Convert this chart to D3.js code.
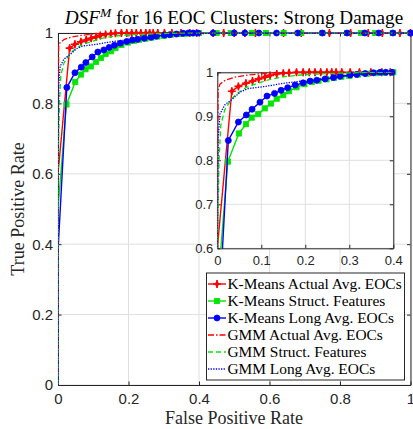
<!DOCTYPE html>
<html>
<head>
<meta charset="utf-8">
<script src="https://cdn.jsdelivr.net/npm/d3@7"></script>
<style>
  html, body { margin: 0; padding: 0; background: #fff; }
  svg { display: block; }
</style>
</head>
<body>
<svg id="chart" width="413" height="429"></svg>
<script>
// ROC points (false positive rate / true positive rate) for each clustering run
const kmActualFpr = [0, 0, 0.033, 0.048, 0.065, 0.08, 0.094, 0.108, 0.12, 0.135, 0.15, 0.163, 0.18, 0.195, 0.209, 0.222, 0.235, 0.249, 0.26, 0.27, 0.283, 0.302, 0.323, 0.349, 0.374, 0.393, 0.44, 0.47, 0.5, 0.53, 0.56, 0.64, 0.69, 0.77, 0.83, 0.88, 0.92, 0.97, 1];
const kmActualTpr = [0, 0.6, 0.957, 0.968, 0.975, 0.98, 0.985, 0.989, 0.993, 0.996, 0.998, 0.999, 1, 1, 1, 1, 1, 1, 1, 1, 1, 1, 1, 1, 1, 1, 1, 1, 1, 1, 1, 1, 1, 1, 1, 1, 1, 1, 1];

const kmStructFpr = [0, 0, 0.024, 0.049, 0.065, 0.078, 0.093, 0.108, 0.122, 0.135, 0.15, 0.163, 0.18, 0.198, 0.215, 0.23, 0.248, 0.265, 0.282, 0.3, 0.32, 0.34, 0.36, 0.38, 0.4, 0.45, 0.49, 0.55, 0.59, 0.64, 0.69, 0.75, 0.82, 0.86, 0.9, 0.95, 1];
const kmStructTpr = [0, 0.5, 0.797, 0.861, 0.882, 0.897, 0.905, 0.918, 0.929, 0.94, 0.948, 0.957, 0.966, 0.973, 0.978, 0.981, 0.984, 0.987, 0.99, 0.992, 0.995, 0.997, 0.998, 0.999, 1, 1, 1, 1, 1, 1, 1, 1, 1, 1, 1, 1, 1];

const kmLongFpr = [0, 0, 0.025, 0.048, 0.066, 0.079, 0.097, 0.113, 0.13, 0.145, 0.16, 0.177, 0.195, 0.211, 0.226, 0.245, 0.264, 0.279, 0.302, 0.317, 0.336, 0.355, 0.37, 0.383, 0.397, 0.44, 0.5, 0.53, 0.57, 0.62, 0.68, 0.75, 0.82, 0.87, 0.91, 0.95, 1];
const kmLongTpr = [0, 0.38, 0.845, 0.887, 0.903, 0.916, 0.932, 0.946, 0.952, 0.959, 0.965, 0.971, 0.976, 0.98, 0.982, 0.985, 0.988, 0.991, 0.994, 0.995, 0.997, 0.999, 1, 1, 1, 1, 1, 1, 1, 1, 1, 1, 1, 1, 1, 1, 1];

const gmmActualFpr = [0, 0, 0.002, 0.006, 0.018, 0.04, 0.065, 0.1, 0.13, 0.2, 1];
const gmmActualTpr = [0, 0.75, 0.962, 0.973, 0.982, 0.989, 0.993, 0.997, 0.999, 1, 1];

const gmmStructFpr = [0, 0, 0.004, 0.008, 0.017, 0.033, 0.045, 0.065, 0.095, 0.12, 0.15, 0.2, 0.28, 0.35, 1];
const gmmStructTpr = [0, 0.6, 0.8, 0.88, 0.915, 0.94, 0.952, 0.965, 0.976, 0.984, 0.99, 0.995, 0.998, 1, 1];

const gmmLongFpr = [0, 0, 0.002, 0.006, 0.017, 0.033, 0.052, 0.07, 0.11, 0.15, 0.2, 0.26, 0.32, 0.4, 0.45, 1];
const gmmLongTpr = [0, 0.6, 0.85, 0.905, 0.926, 0.938, 0.955, 0.963, 0.968, 0.975, 0.981, 0.988, 0.994, 0.998, 1, 1];

const seriesNames = [
  "K-Means Actual Avg. EOCs",
  "K-Means Struct. Features",
  "K-Means Long Avg. EOCs",
  "GMM Actual Avg. EOCs",
  "GMM Struct. Features",
  "GMM Long Avg. EOCs"
];

const mainTicks = [0, 0.2, 0.4, 0.6, 0.8, 1];
const mainTickLabels = ["0", "0.2", "0.4", "0.6", "0.8", "1"];
const insetXTicks = [0, 0.1, 0.2, 0.3, 0.4];
const insetXTickLabels = ["0", "0.1", "0.2", "0.3", "0.4"];
const insetYTicks = [0.6, 0.7, 0.8, 0.9, 1];
const insetYTickLabels = ["0.6", "0.7", "0.8", "0.9", "1"];

// ---- styling for each run ----
const zip = (a, b) => a.map((v, i) => [v, b[i]]);
const series = [
  { name: seriesNames[0], pts: zip(kmActualFpr, kmActualTpr), color: "#ff0000", dash: null, marker: "star" },
  { name: seriesNames[1], pts: zip(kmStructFpr, kmStructTpr), color: "#00e600", dash: null, marker: "square" },
  { name: seriesNames[2], pts: zip(kmLongFpr, kmLongTpr), color: "#0000ff", dash: null, marker: "circle" },
  { name: seriesNames[3], pts: zip(gmmActualFpr, gmmActualTpr), color: "#ff0000", dash: "6,2,1.5,2", marker: null },
  { name: seriesNames[4], pts: zip(gmmStructFpr, gmmStructTpr), color: "#00e600", dash: "5,3", marker: null },
  { name: seriesNames[5], pts: zip(gmmLongFpr, gmmLongTpr), color: "#0000ff", dash: "1.3,1.3", marker: null }
];

const svg = d3.select("#chart");
const axisColor = "#262626";
const gridColor = "#dfdfdf";
const serif = "'Liberation Serif', 'Times New Roman', serif";
const sans = "'Liberation Sans', Arial, sans-serif";

function drawMarker(g, type, color, cx, cy) {
  if (type === "circle") {
    g.append("circle").attr("cx", cx).attr("cy", cy).attr("r", 3)
      .attr("fill", color).attr("stroke", color).attr("stroke-width", 0.8);
  } else if (type === "square") {
    g.append("rect").attr("x", cx - 2.6).attr("y", cy - 2.6).attr("width", 5.2).attr("height", 5.2)
      .attr("fill", color).attr("stroke", color).attr("stroke-width", 0.8);
  } else if (type === "star") {
    g.append("path")
      .attr("d", d3.symbol(d3.symbolDiamond, 18)())
      .attr("transform", `translate(${cx},${cy})`)
      .attr("fill", color);
    g.append("path")
      .attr("d", `M${cx - 4},${cy}H${cx + 4}M${cx},${cy - 4}V${cy + 4}`)
      .attr("stroke", color).attr("stroke-width", 1.6).attr("fill", "none");
  }
}

// Draws one set of axes with grid, box, ticks and curves
function drawAxes(opts) {
  const { x, y, xTicks, xLabels, yTicks, yLabels, fontSize, clipId, white } = opts;
  const [x0, x1] = x.range();
  const [y0, y1] = y.range(); // y0 bottom, y1 top
  const g = svg.append("g");

  if (white) {
    g.append("rect").attr("x", x0).attr("y", y1).attr("width", x1 - x0).attr("height", y0 - y1)
      .attr("fill", "#fff");
  }

  // grid
  const grid = g.append("g");
  grid.selectAll("line.gx").data(xTicks).join("line")
    .attr("x1", d => x(d)).attr("x2", d => x(d))
    .attr("y1", y0).attr("y2", y1)
    .attr("stroke", gridColor).attr("stroke-width", 1);
  grid.selectAll("line.gy").data(yTicks).join("line")
    .attr("x1", x0).attr("x2", x1)
    .attr("y1", d => y(d)).attr("y2", d => y(d))
    .attr("stroke", gridColor).attr("stroke-width", 1);

  // axes (inward ticks on all four sides)
  const tk = 3.5;
  const styleAxis = sel => {
    sel.select(".domain").attr("stroke", axisColor).attr("stroke-width", 1);
    sel.selectAll(".tick line").attr("stroke", axisColor);
    sel.selectAll("text").attr("fill", axisColor).attr("font-family", sans).attr("font-size", fontSize);
  };
  g.append("g").attr("transform", `translate(0,${y0})`)
    .call(d3.axisBottom(x).tickValues(xTicks).tickFormat((d, i) => xLabels[i])
      .tickSizeInner(-tk).tickSizeOuter(0).tickPadding(opts.xPad))
    .call(styleAxis);
  g.append("g").attr("transform", `translate(${x0},0)`)
    .call(d3.axisLeft(y).tickValues(yTicks).tickFormat((d, i) => yLabels[i])
      .tickSizeInner(-tk).tickSizeOuter(0).tickPadding(opts.yPad))
    .call(styleAxis);
  g.append("g").attr("transform", `translate(0,${y1})`)
    .call(d3.axisTop(x).tickValues(xTicks).tickFormat("").tickSizeInner(-tk).tickSizeOuter(0))
    .call(styleAxis);
  g.append("g").attr("transform", `translate(${x1},0)`)
    .call(d3.axisRight(y).tickValues(yTicks).tickFormat("").tickSizeInner(-tk).tickSizeOuter(0))
    .call(styleAxis);

  // curves
  svg.append("clipPath").attr("id", clipId)
    .append("rect").attr("x", x0).attr("y", y1 - 0.5).attr("width", x1 - x0 + 0.5).attr("height", y0 - y1 + 1);
  const line = d3.line().x(d => x(d[0])).y(d => y(d[1]));
  const xd = x.domain(), yd = y.domain();
  series.forEach(s => {
    g.append("path")
      .attr("d", line(s.pts))
      .attr("clip-path", `url(#${clipId})`)
      .attr("fill", "none")
      .attr("stroke", s.color)
      .attr("stroke-width", s.dash ? 1.3 : 1.4)
      .attr("stroke-dasharray", s.dash);
    if (s.marker) {
      const mg = g.append("g");
      s.pts.filter(p => p[0] > 0 && p[0] >= xd[0] && p[0] <= xd[1] + 1e-9 && p[1] >= yd[0] && p[1] <= yd[1])
        .forEach(p => drawMarker(mg, s.marker, s.color, x(p[0]), y(p[1])));
    }
  });
  return g;
}

// ---- main axes ----
const x = d3.scaleLinear().domain([0, 1]).range([58, 410.5]);
const y = d3.scaleLinear().domain([0, 1]).range([385, 33]);
drawAxes({ x, y, xTicks: mainTicks, xLabels: mainTickLabels, yTicks: mainTicks, yLabels: mainTickLabels,
  fontSize: 15, clipId: "clipMain", xPad: 8, yPad: 5, white: false });

// ---- inset zoom ----
const xi = d3.scaleLinear().domain([0, 0.4]).range([217.3, 393.3]);
const yi = d3.scaleLinear().domain([0.6, 1]).range([248.3, 72.3]);
drawAxes({ x: xi, y: yi, xTicks: insetXTicks, xLabels: insetXTickLabels, yTicks: insetYTicks, yLabels: insetYTickLabels,
  fontSize: 13, clipId: "clipInset", xPad: 7, yPad: 4, white: true });

// ---- legend ----
const lg = svg.append("g");
const lgX = 206.5, lgY = 273, lgW = 198, lgH = 107;
lg.append("rect").attr("x", lgX).attr("y", lgY).attr("width", lgW).attr("height", lgH)
  .attr("fill", "#fff").attr("stroke", "#262626").attr("stroke-width", 1);
const rowY = d3.scaleLinear().domain([0, 5]).range([284, 369]);
series.forEach((s, i) => {
  const cy = rowY(i);
  lg.append("line").attr("x1", 208).attr("x2", 226).attr("y1", cy).attr("y2", cy)
    .attr("stroke", s.color).attr("stroke-width", s.dash ? 1.3 : 1.4).attr("stroke-dasharray", s.dash);
  if (s.marker) drawMarker(lg, s.marker, s.color, 217, cy);
  lg.append("text").attr("x", 227.5).attr("y", cy + 5)
    .attr("font-family", serif).attr("font-size", 15.4).attr("fill", "#000")
    .text(s.name);
});

// ---- title and axis labels ----
const title = svg.append("text").attr("x", 234).attr("y", 24).attr("text-anchor", "middle")
  .attr("font-family", serif).attr("font-size", 19.2).attr("fill", "#000");
title.append("tspan").attr("font-style", "italic").text("DSF");
title.append("tspan").attr("font-style", "italic").attr("font-size", 13.5).attr("dy", -7).text("M");
title.append("tspan").attr("dy", 7).text(" for 16 EOC Clusters: Strong Damage");

svg.append("text").attr("x", 234).attr("y", 424).attr("text-anchor", "middle")
  .attr("font-family", serif).attr("font-size", 18).attr("fill", "#262626")
  .text("False Positive Rate");

svg.append("text").attr("transform", "translate(24,209) rotate(-90)").attr("text-anchor", "middle")
  .attr("font-family", serif).attr("font-size", 18).attr("fill", "#262626")
  .text("True Positive Rate");
</script>
</body>
</html>
